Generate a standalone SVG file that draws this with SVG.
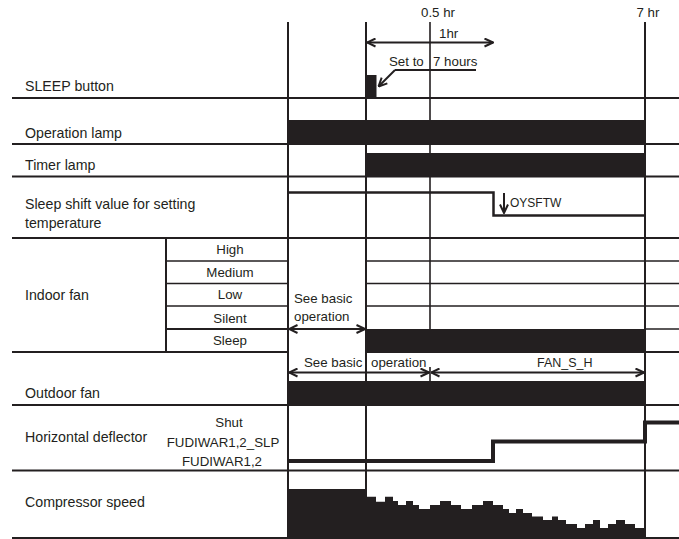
<svg xmlns="http://www.w3.org/2000/svg" width="679" height="539" viewBox="0 0 679 539">
<style>
.ln{stroke:#231f20;stroke-width:2;fill:none}
.thin{stroke:#231f20;stroke-width:1.6;fill:none}
.blk{fill:#231f20}
.lbl{font-family:"Liberation Sans",Arial,sans-serif;font-size:14.2px;fill:#231f20}
.sub{font-family:"Liberation Sans",Arial,sans-serif;font-size:13.3px;fill:#231f20}
.mid{text-anchor:middle}
.arr{stroke:#231f20;stroke-width:2;fill:none;marker-end:url(#ah);marker-start:url(#ah)}
.sig{stroke:#231f20;stroke-width:4;fill:none}
</style>
<defs>
<marker id="ah" viewBox="0 0 10 10" refX="9.5" refY="5" markerWidth="10" markerHeight="10" markerUnits="userSpaceOnUse" orient="auto-start-reverse">
<path d="M1,1 L9.5,5 L1,9" stroke="#231f20" stroke-width="2" fill="none"/>
</marker>
</defs>
<rect width="679" height="539" fill="#fff"/>

<g id="grid">
<line class="ln" x1="12" y1="98" x2="679" y2="98"/>
<line class="ln" x1="12" y1="144" x2="679" y2="144"/>
<line class="ln" x1="12" y1="176.5" x2="679" y2="176.5"/>
<line class="ln" x1="12" y1="238" x2="679" y2="238"/>
<line class="thin" x1="166" y1="261" x2="288" y2="261"/>
<line class="thin" x1="366" y1="261" x2="679" y2="261"/>
<line class="thin" x1="166" y1="283.5" x2="288" y2="283.5"/>
<line class="thin" x1="366" y1="283.5" x2="679" y2="283.5"/>
<line class="thin" x1="166" y1="306" x2="288" y2="306"/>
<line class="thin" x1="366" y1="306" x2="679" y2="306"/>
<line class="ln" x1="166" y1="329" x2="288" y2="329"/>
<line class="thin" x1="645" y1="329" x2="679" y2="329"/>
<line class="ln" x1="12" y1="352" x2="288" y2="352"/>
<line class="ln" x1="366" y1="352" x2="679" y2="352"/>
<line class="ln" x1="12" y1="405" x2="679" y2="405"/>
<line class="ln" x1="12" y1="470.5" x2="679" y2="470.5"/>
<line class="ln" x1="12" y1="538" x2="679" y2="538"/>
<line class="ln" x1="166" y1="238" x2="166" y2="352"/>
<line class="ln" x1="288" y1="22" x2="288" y2="539"/>
<line class="ln" x1="366" y1="22" x2="366" y2="539"/>
<line class="thin" x1="430" y1="22" x2="430" y2="329"/>
<line class="ln" x1="645" y1="22" x2="645" y2="539"/>
</g>

<g id="header">
<text class="sub mid" x="438" y="17">0.5 hr</text>
<text class="sub mid" x="648" y="17">7 hr</text>
<text class="sub" x="439" y="38">1hr</text>
<line class="arr" x1="367" y1="42.5" x2="493" y2="42.5"/>
</g>

<g id="sleep-button">
<text class="lbl" x="25" y="91">SLEEP button</text>
<rect class="blk" x="366" y="75" width="10.5" height="23"/>
<text class="sub" x="389" y="66">Set to<tspan x="433">7 hours</tspan></text>
<polyline class="ln" points="476,70 395,70"/>
<line class="ln" x1="395" y1="70" x2="378.5" y2="86.5" marker-end="url(#ah)"/>
</g>

<g id="operation-lamp">
<text class="lbl" x="25" y="138">Operation lamp</text>
<rect class="blk" x="288" y="120" width="357" height="24"/>
</g>

<g id="timer-lamp">
<text class="lbl" x="25" y="170">Timer lamp</text>
<rect class="blk" x="366" y="153" width="279" height="23.5"/>
</g>

<g id="sleep-shift">
<text class="lbl" x="25" y="209">Sleep shift value for setting</text>
<text class="lbl" x="25" y="228">temperature</text>
<polyline class="ln" points="288,192.5 493.5,192.5 493.5,215.5 645,215.5" style="stroke-width:2.5"/>
<line class="ln" x1="504" y1="193" x2="504" y2="213" marker-end="url(#ah)"/>
<text class="sub" x="510" y="207" style="font-size:12px">OYSFTW</text>
</g>

<g id="indoor-fan">
<text class="lbl" x="25" y="300">Indoor fan</text>
<text class="sub mid" x="230" y="254">High</text>
<text class="sub mid" x="230" y="277">Medium</text>
<text class="sub mid" x="230" y="299">Low</text>
<text class="sub mid" x="230" y="322.5">Silent</text>
<text class="sub mid" x="230" y="345">Sleep</text>
<text class="sub" x="294" y="302.5">See basic</text>
<text class="sub" x="294" y="320.5">operation</text>
<line class="arr" x1="289" y1="329" x2="365" y2="329"/>
<rect class="blk" x="366" y="329" width="279" height="23"/>
</g>

<g id="outdoor-fan">
<text class="lbl" x="25" y="398">Outdoor fan</text>
<text class="sub" x="304" y="366.5">See basic</text>
<text class="sub" x="371" y="366.5">operation</text>
<text class="sub" x="537" y="366.5" style="font-size:12.5px">FAN_S_H</text>
<line class="arr" x1="289" y1="372.5" x2="429" y2="372.5"/>
<line class="arr" x1="431" y1="372.5" x2="644" y2="372.5"/>
<line class="thin" x1="430" y1="367" x2="430" y2="381"/>
<rect class="blk" x="288" y="381" width="357" height="24"/>
</g>

<g id="horizontal-deflector">
<text class="lbl" x="25" y="442">Horizontal deflector</text>
<text class="sub mid" x="229" y="427">Shut</text>
<text class="sub mid" x="223" y="446.5">FUDIWAR1,2_SLP</text>
<text class="sub mid" x="222" y="466">FUDIWAR1,2</text>
<polyline class="sig" points="288,461 493,461 493,441.5 645,441.5 645,422.5 679,422.5"/>
</g>

<g id="compressor-speed">
<text class="lbl" x="25" y="507">Compressor speed</text>
<polygon class="blk" points="288,538 288,489 366,489 366,496.7 376,496.7 376,501.7 385,501.7 385,496.7 393,496.7 393,501 398,501 398,505 406,505 406,501 413,501 413,505 419,505 419,509 430,509 430,505 440,505 440,501 451,501 451,505 461,505 461,509 472,509 472,505 483,505 483,501 493,501 493,505 503,505 503,509 509,509 509,513 516,513 516,509 523,509 523,513 532,513 532,516.5 543,516.5 543,520 552,520 552,516.5 558,516.5 558,520 566,520 566,524 577,524 577,528 585,528 585,524 593,524 593,520 600,520 600,528 608,528 608,524 616,524 616,520 625,520 625,524 635,524 635,528 645,528 645,538"/>
</g>
</svg>
